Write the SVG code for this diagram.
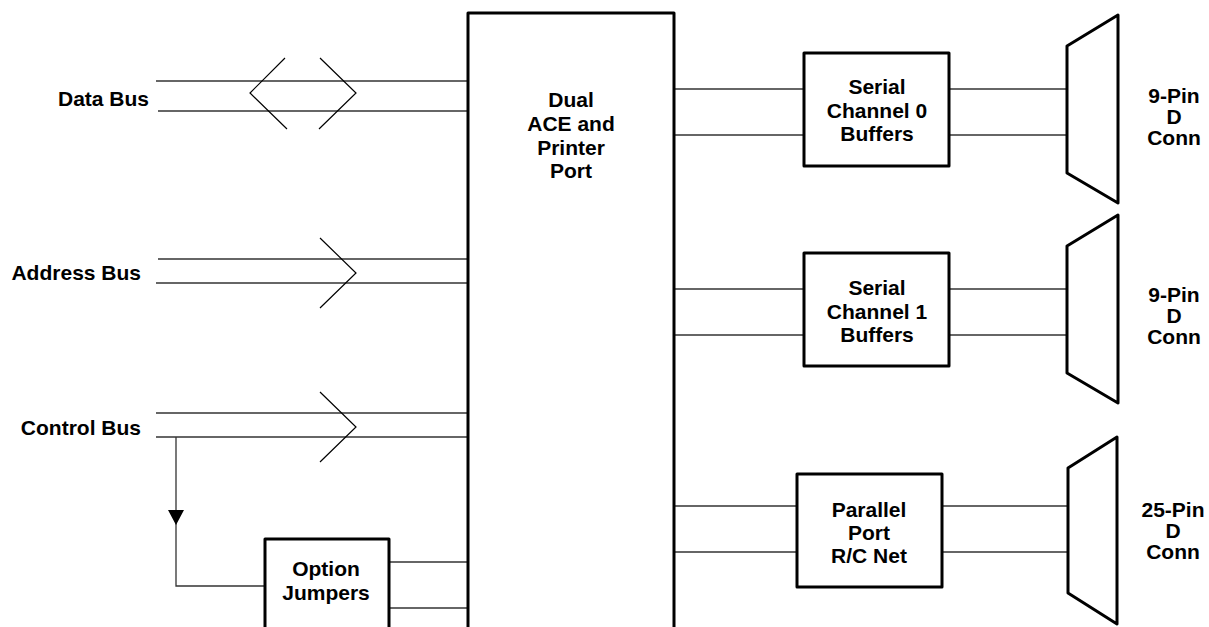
<svg xmlns="http://www.w3.org/2000/svg" width="1209" height="627" viewBox="0 0 1209 627">
<style>
.box{fill:#fff;stroke:#000;stroke-width:3;stroke-linejoin:round}
.wire{stroke:#333;stroke-width:1.3;fill:none}
.chev{stroke:#000;stroke-width:1.2;fill:none}
text{font-family:"Liberation Sans",Arial,sans-serif;font-weight:bold;font-size:21px;fill:#000}
.c{text-anchor:middle}
.r{text-anchor:end}
</style>
<rect width="1209" height="627" fill="#fff"/>
<g id="connectors">
<line class="wire" x1="156" y1="81" x2="468" y2="81"/>
<line class="wire" x1="158" y1="111" x2="468" y2="111"/>
<polyline class="chev" points="285,58 250,93 287,129"/>
<polyline class="chev" points="320,58 356,93 319,129"/>
<line class="wire" x1="158" y1="259" x2="468" y2="259"/>
<line class="wire" x1="156" y1="283" x2="468" y2="283"/>
<polyline class="chev" points="320,238 356,273 320,308"/>
<line class="wire" x1="156" y1="413" x2="468" y2="413"/>
<line class="wire" x1="156" y1="437" x2="468" y2="437"/>
<polyline class="chev" points="320,392 356,427 320,462"/>
<polyline class="wire" points="176,437 176,586 265,586"/>
<polygon points="168,510 184,510 176,525" fill="#000"/>
<line class="wire" x1="389" y1="562" x2="468" y2="562"/>
<line class="wire" x1="389" y1="608" x2="468" y2="608"/>
<line class="wire" x1="674" y1="89" x2="804" y2="89"/>
<line class="wire" x1="674" y1="135" x2="804" y2="135"/>
<line class="wire" x1="949" y1="89" x2="1067" y2="89"/>
<line class="wire" x1="949" y1="135" x2="1067" y2="135"/>
<line class="wire" x1="674" y1="289" x2="804" y2="289"/>
<line class="wire" x1="674" y1="335" x2="804" y2="335"/>
<line class="wire" x1="949" y1="289" x2="1067" y2="289"/>
<line class="wire" x1="949" y1="335" x2="1067" y2="335"/>
<line class="wire" x1="674" y1="506" x2="797" y2="506"/>
<line class="wire" x1="674" y1="552" x2="797" y2="552"/>
<line class="wire" x1="942" y1="506" x2="1068" y2="506"/>
<line class="wire" x1="942" y1="552" x2="1068" y2="552"/>
</g>
<g id="labels">
<text class="r" x="149" y="106">Data Bus</text>
<text class="r" x="141" y="280">Address Bus</text>
<text class="r" x="141" y="435">Control Bus</text>
</g>
<g id="main">
<rect class="box" x="468" y="13" width="206" height="640"/>
<text class="c" x="571" y="107">Dual</text>
<text class="c" x="571" y="131">ACE and</text>
<text class="c" x="571" y="155">Printer</text>
<text class="c" x="571" y="178">Port</text>
</g>
<g id="serial0">
<rect class="box" x="804" y="53" width="145" height="113"/>
<text class="c" x="877" y="94">Serial</text>
<text class="c" x="877" y="118">Channel 0</text>
<text class="c" x="877" y="141">Buffers</text>
</g>
<g id="serial1">
<rect class="box" x="804" y="253" width="145" height="113"/>
<text class="c" x="877" y="295">Serial</text>
<text class="c" x="877" y="319">Channel 1</text>
<text class="c" x="877" y="342">Buffers</text>
</g>
<g id="parallel">
<rect class="box" x="797" y="474" width="145" height="113"/>
<text class="c" x="869" y="517">Parallel</text>
<text class="c" x="869" y="540">Port</text>
<text class="c" x="869" y="563">R/C Net</text>
</g>
<g id="option">
<rect class="box" x="265" y="539" width="124" height="120"/>
<text class="c" x="326" y="576">Option</text>
<text class="c" x="326" y="600">Jumpers</text>
</g>
<g id="conn0">
<polygon class="box" points="1118,15 1067,46 1067,173 1118,203"/>
<text class="c" x="1174" y="103">9-Pin</text>
<text class="c" x="1174" y="124">D</text>
<text class="c" x="1174" y="145">Conn</text>
</g>
<g id="conn1">
<polygon class="box" points="1118,215 1067,246 1067,373 1118,403"/>
<text class="c" x="1174" y="302">9-Pin</text>
<text class="c" x="1174" y="323">D</text>
<text class="c" x="1174" y="344">Conn</text>
</g>
<g id="conn2">
<polygon class="box" points="1117,437 1068,468 1068,593 1117,624"/>
<text class="c" x="1173" y="517">25-Pin</text>
<text class="c" x="1173" y="538">D</text>
<text class="c" x="1173" y="559">Conn</text>
</g>
</svg>
